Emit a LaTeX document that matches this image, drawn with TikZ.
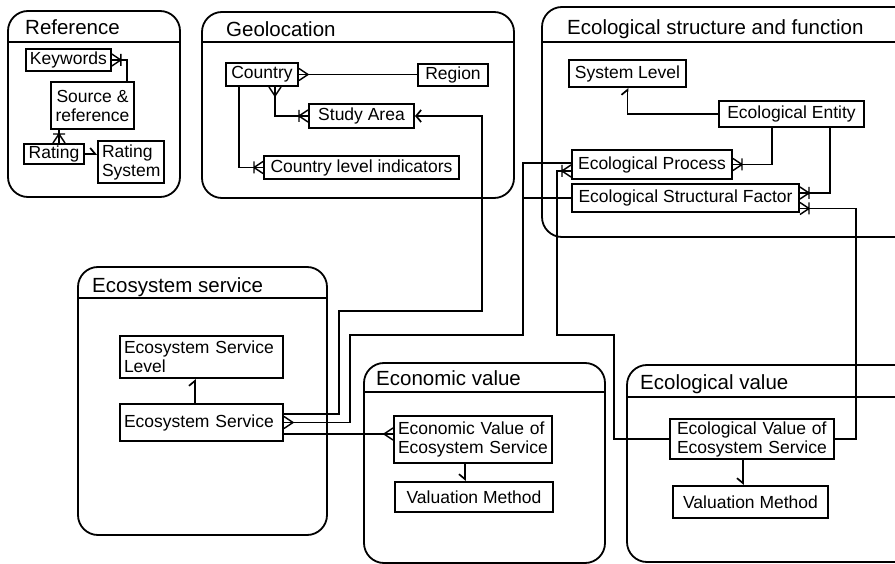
\documentclass[tikz,border=0pt]{standalone}
\usepackage{fontspec}
\setmainfont{Liberation Sans}
\usetikzlibrary{arrows.meta}

\newcommand{\entfont}{\fontsize{17.5}{19}\selectfont}
\newcommand{\grpfont}{\fontsize{20.5}{24}\selectfont}

\tikzset{
  group/.style={draw, line width=1.8pt, rounded corners=20pt},
  grouptitle/.style={anchor=base west, inner sep=0pt, font=\grpfont},
  entity/.style={draw, line width=2pt, fill=white, anchor=north west,
    inner xsep=4pt, inner ysep=0pt, font=\entfont},
  link/.style={line width=1.7pt},
  tick/.style={link, -{Straight Barb[harpoon, length=5pt, width=12pt]}},
  tickdown/.style={link, -{Straight Barb[harpoon, swap, length=5pt, width=12pt]}},
  arrowin/.style={link, -{Straight Barb[length=5pt, width=12pt]}},
  many/.pic={\draw[line width=1.4pt] (0,-6) -- (9,0) -- (0,6);},
  manyone/.pic={\draw[line width=1.4pt] (0,-6) -- (9,0) -- (0,6) (9,-6) -- (9,6);},
}

\begin{document}
\begin{tikzpicture}[x=1pt,y=-1pt]
  \clip (0,0) rectangle (895,564);

  % groups
  \draw[group] (8,11) rectangle (180,197);
  \draw[link] (8,42) -- (180,42);
  \node[grouptitle] (tref) at (25,35) {Reference};

  \draw[group] (202,12) rectangle (514,198);
  \draw[link] (202,42) -- (514,42);
  \node[grouptitle] (tgeo) at (226,37) {Geolocation};

  \draw[group] (542,7) rectangle (915,237);
  \draw[link] (542,42) -- (915,42);
  \node[grouptitle] (tesf) at (567,35) {Ecological structure and function};

  \draw[group] (78,267) rectangle (327,535);
  \draw[link] (78,298) -- (327,298);
  \node[grouptitle] (tess) at (92,293) {Ecosystem service};

  \draw[group] (364,363) rectangle (605,563);
  \draw[link] (364,392) -- (605,392);
  \node[grouptitle] (tecv) at (376,385) {Economic value};

  \draw[group] (627,365) rectangle (915,562);
  \draw[link] (627,397) -- (915,397);
  \node[grouptitle] (tev) at (640,389) {Ecological value};

  % Reference
  \node[entity, minimum width=82pt, minimum height=22pt] (kw) at (25,48) {Keywords};
  \node[entity, align=center, minimum width=83pt, minimum height=47pt] (src) at (50,81) {Source \&\\reference};
  \node[entity, minimum width=60pt, minimum height=20pt] (rat) at (23,143) {Rating};
  \node[entity, align=left, text width=58pt, minimum height=42pt] (rsys) at (97,140) {Rating\\System};

  % Geolocation
  \node[entity, minimum width=72pt, minimum height=23pt] (cty) at (225,62) {Country};
  \node[entity, minimum width=70pt, minimum height=22pt] (reg) at (417,63) {Region};
  \node[entity, minimum width=105pt, minimum height=24pt] (sa) at (308,103) {Study Area};
  \node[entity, minimum width=195pt, minimum height=23pt] (cli) at (263,155) {Country level indicators};

  % Ecological structure and function
  \node[entity, minimum width=117pt, minimum height=27pt] (sl) at (568,59) {System Level};
  \node[entity, minimum width=145pt, minimum height=26pt] (ee) at (718,100) {Ecological Entity};
  \node[entity, minimum width=160pt, minimum height=29pt] (ep) at (571,149) {Ecological Process};
  \node[entity, minimum width=227pt, minimum height=28pt] (esf) at (571,183) {Ecological Structural Factor};

  % Ecosystem service
  \node[entity, align=left, text width=155pt, minimum height=42pt] (esl) at (119,335) {Ecosystem Service\\Level};
  \node[entity, align=left, text width=155pt, minimum height=37pt] (es) at (119,403) {Ecosystem Service};

  % Economic value
  \node[entity, align=left, text width=150pt, minimum height=47pt] (ecv) at (393,415) {Economic Value of\\Ecosystem Service};
  \node[entity, minimum width=158pt, minimum height=30pt] (vm) at (394,481) {Valuation Method};

  % Ecological value
  \node[entity, align=left, inner xsep=7pt, text width=150pt, minimum height=40pt] (ev) at (669,418) {Ecological Value of\\Ecosystem Service};
  \node[entity, minimum width=155pt, minimum height=32pt] (vm2) at (672,485) {Valuation Method};

  % helper points
  \coordinate (srcb) at ([xshift=9pt]src.south west);
  \coordinate (ctyb) at ([xshift=50pt]cty.south west);
  \coordinate (ctyc) at ([xshift=14pt]cty.south west);
  \coordinate (eeb1) at ([xshift=54pt]ee.south west);
  \coordinate (eeb2) at ([xshift=112pt]ee.south west);
  \coordinate (esfr1) at ([yshift=5pt]esf.east);
  \coordinate (esfr2) at ([yshift=-10.5pt]esf.east);
  \coordinate (epu) at ([yshift=1.5pt]ep.west);
  \coordinate (epl) at ([yshift=-6.5pt]ep.west);
  \coordinate (esr1) at ([yshift=8.5pt]es.east);
  \coordinate (esr2) at (es.east);
  \coordinate (esr3) at ([yshift=-11.5pt]es.east);
  \coordinate (est) at ([xshift=76pt]es.north west);
  \coordinate (ecvb) at ([xshift=72pt]ecv.south west);
  \coordinate (evb) at ([xshift=74pt]ev.south west);
  \coordinate (a1) at (339,311);
  \coordinate (a2) at (482,311);
  \coordinate (b1) at (350,335);
  \coordinate (b2) at (523,335);
  \coordinate (d1) at (614,335);
  \coordinate (d2) at (557,335);
  \coordinate (e1) at (856,0);

  % Reference links
  \draw[link] (kw.east) -| ([xshift=-8pt]src.north east);
  \pic at (kw.east) {manyone};
  \draw[link] (srcb) -- (srcb |- rat.north);
  \pic[rotate=90] at (srcb |- rat.north) {manyone};
  \draw[tick] (rat.east) -- (rat.east -| rsys.west);

  % Geolocation links
  \draw[link] (cty.east) -- (cty.east -| reg.west);
  \pic at (cty.east) {many};
  \draw[link] (ctyb) |- (sa.west);
  \pic[rotate=-90] at (ctyb) {many};
  \pic[rotate=180] at (sa.west) {manyone};
  \draw[link] (ctyc) |- (cli.west);
  \pic[rotate=180] at (cli.west) {manyone};

  % Ecological structure links
  \draw[tick] (ee.west) -| (sl.south);
  \draw[link] (eeb1) |- (ep.east);
  \pic at (ep.east) {manyone};
  \draw[link] (eeb2) |- (esfr1);
  \pic at (esfr1) {manyone};

  % Ecosystem service links
  \draw[tick] (est) -- (est |- esl.south);
  \draw[arrowin] (esr1) -| (a1) -- (a2) |- (sa.east);
  \draw[link] (esr2) -| (b1) -- (b2) |- (epu);
  \draw[link] (esf.west) -- (esf.west -| b2);
  \pic at (esr2) {many};
  \draw[link] (esr3) -- (esr3 -| ecv.west);
  \pic[rotate=180] at (esr3 -| ecv.west) {many};

  % value links
  \draw[tickdown] (ecvb) -- (ecvb |- vm.north);
  \draw[tickdown] (evb) -- (evb |- vm2.north);
  \draw[link] (ev.west) -| (d1) -- (d2) |- (epl);
  \pic[rotate=180] at (epl) {manyone};
  \draw[link] (ev.east) -- (ev.east -| e1) |- (esfr2);
  \pic at (esfr2) {manyone};
\end{tikzpicture}
\end{document}
